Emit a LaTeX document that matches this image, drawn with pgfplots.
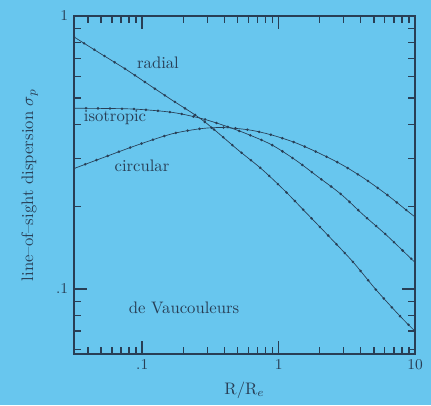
\documentclass[border=0pt]{standalone}
\usepackage{pgfplots}
\usepackage{pgfplotstable}
\usetikzlibrary{backgrounds}
\pgfplotsset{compat=1.18}
\definecolor{bg}{RGB}{104,198,238}
\definecolor{ink}{RGB}{40,62,85}
\pgfplotstableread{
x y
0.0316 0.838
0.0344 0.816
0.0499 0.726
0.0750 0.640
0.109 0.565
0.159 0.498
0.277 0.415
0.506 0.3224
0.750 0.275
1.108 0.229
1.612 0.1888
2.38 0.1543
3.52 0.1253
5.12 0.0999
7.59 0.0804
9.4 0.0721
10 0.0700
}\tabrad
\pgfplotstableread{
x y
0.0316 0.459
0.0600 0.458
0.0936 0.455
0.168 0.443
0.277 0.420
0.4155 0.394
0.599 0.368
0.891 0.337
1.325 0.297
1.932 0.258
2.874 0.222
4.2 0.1863
6.25 0.1565
9.36 0.129
10 0.125
}\tabiso
\pgfplotstableread{
x y
0.0316 0.276
0.0502 0.301
0.0912 0.336
0.1655 0.370
0.2754 0.387
0.40 0.390
0.615 0.382
0.889 0.3665
1.325 0.3433
1.936 0.316
2.88 0.286
4.21 0.2545
6.25 0.221
9.14 0.190
10 0.1836
}\tabcirc
\begin{document}
\begin{tikzpicture}
\begin{axis}[
  at={(44.4pt,30.6pt)}, anchor=south west,
  scale only axis, width=204.6pt, height=202.8pt,
  xmode=log, ymode=log,
  xmin=0.0316, xmax=10, ymin=0.0577, ymax=1,
  axis on top,
  axis line style={ink, line width=0.9pt},
  every tick/.style={draw=ink, line width=0.9pt},
  tick align=inside,
  major tick length=8pt, minor tick length=4pt,
  xtick={0.1,1,10}, xticklabels={.1,1,10},
  ytick={0.1,1}, yticklabels={.1,1},
  minor xtick={0.04,0.05,0.06,0.07,0.08,0.09,0.2,0.3,0.4,0.5,0.6,0.7,0.8,0.9,2,3,4,5,6,7,8,9},
  minor ytick={0.06,0.07,0.08,0.09,0.2,0.3,0.4,0.5,0.6,0.7,0.8,0.9},
  ticklabel style={ink, font=\small},
  xlabel={R/R$_e$}, ylabel={line--of--sight dispersion $\sigma_p$},
  label style={ink},
  ylabel style={yshift=4pt},
]
\addplot[ink, line width=0.4pt, smooth] table[x=x,y=y] {\tabrad};
\addplot[ink, line width=1.7pt, line cap=round, dash pattern=on 0pt off 7.2pt, smooth] table[x=x,y=y] {\tabrad};
\addplot[ink, line width=0.4pt, smooth] table[x=x,y=y] {\tabiso};
\addplot[ink, line width=1.7pt, line cap=round, dash pattern=on 0pt off 7.2pt, smooth] table[x=x,y=y] {\tabiso};
\addplot[ink, line width=0.4pt, smooth] table[x=x,y=y] {\tabcirc};
\addplot[ink, line width=1.7pt, line cap=round, dash pattern=on 0pt off 7.2pt, smooth] table[x=x,y=y] {\tabcirc};
\node[ink] at (axis cs:0.1305,0.672) {radial};
\node[ink] at (axis cs:0.0632,0.423) {isotropic};
\node[ink] at (axis cs:0.0996,0.282) {circular};
\node[ink] at (axis cs:0.2025,0.085) {de Vaucouleurs};
\end{axis}
\begin{scope}[on background layer]
\fill[bg] (0,0) rectangle (258.6pt,243pt);
\end{scope}
\end{tikzpicture}
\end{document}
